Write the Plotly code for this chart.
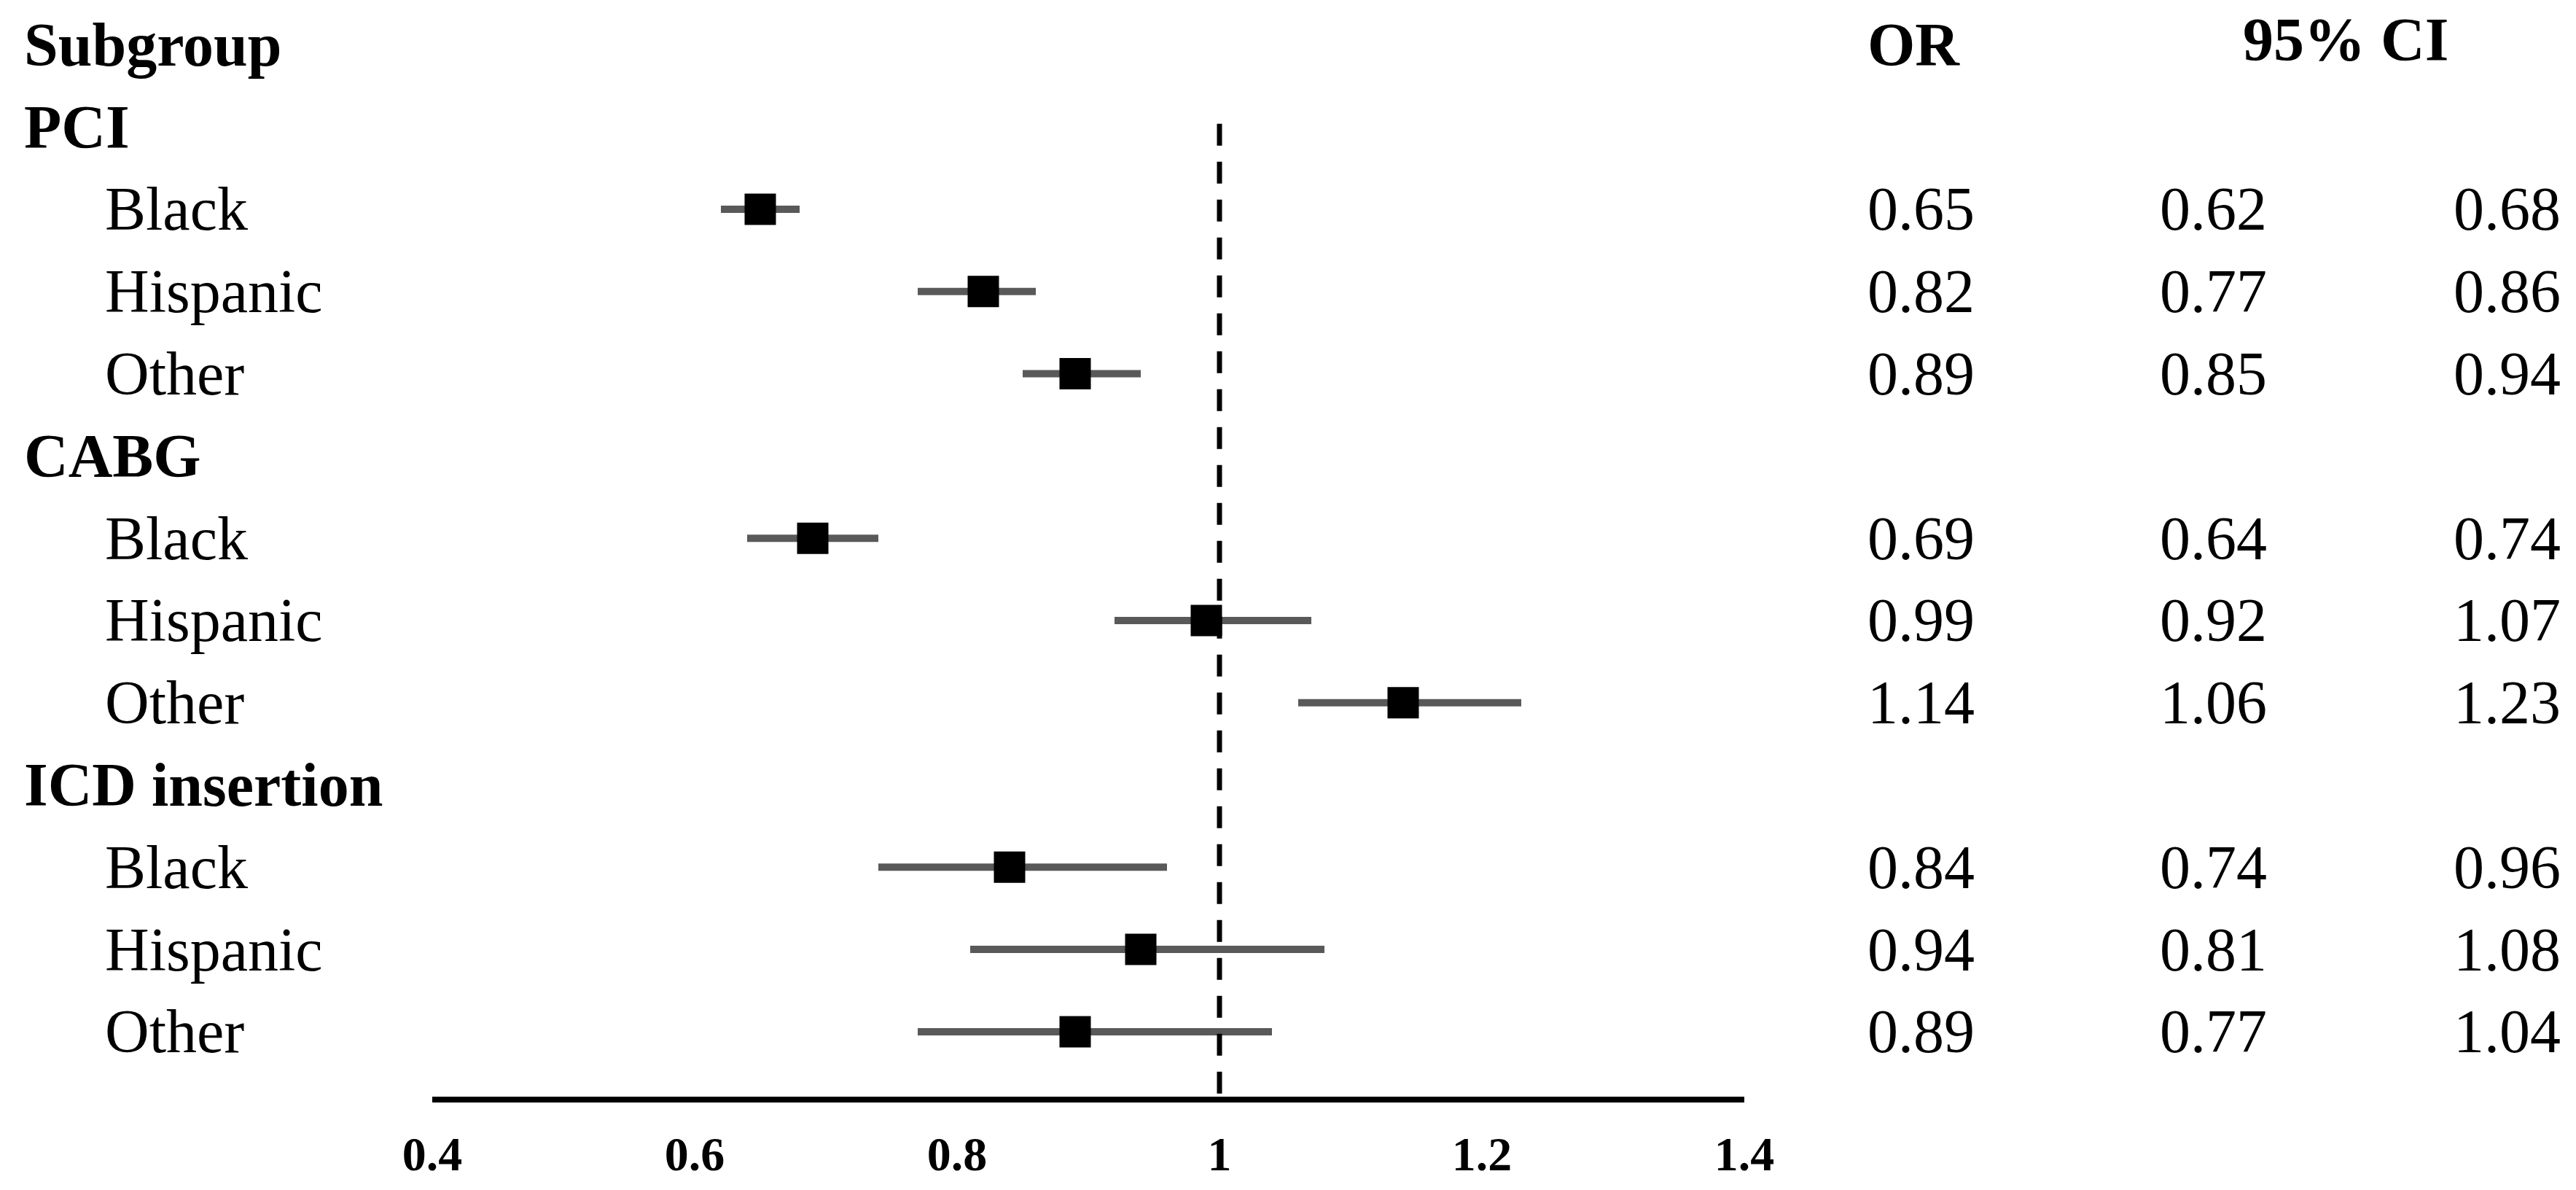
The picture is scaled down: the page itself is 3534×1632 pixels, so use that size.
import plotly.graph_objects as go

# forest plot data
groups = ['PCI', 'CABG', 'ICD insertion']
races = ['Black', 'Hispanic', 'Other']
odds_ratio = [0.65, 0.82, 0.89, 0.69, 0.99, 1.14, 0.84, 0.94, 0.89]
ci_low = [0.62, 0.77, 0.85, 0.64, 0.92, 1.06, 0.74, 0.81, 0.77]
ci_high = [0.68, 0.86, 0.94, 0.74, 1.07, 1.23, 0.96, 1.08, 1.04]
x_ticks = [0.4, 0.6, 0.8, 1, 1.2, 1.4]

W, H = 3534, 1632
FONT = 'Liberation Serif, Times New Roman, serif'

#building the rows: header row 0, then group row followed by race rows
rows_y = []
labels = []
row = 1
for g in groups:
    labels.append((row, g, True))
    row += 1
    for r in races:
        labels.append((row, r, False))
        rows_y.append(row)
        row += 1

fig = go.Figure()

fig.add_trace(go.Scatter(
    x=odds_ratio, y=rows_y, mode='markers',
    marker=dict(symbol='square', size=43, color='black'),
    error_x=dict(type='data', symmetric=False,
                 array=[h - o for h, o in zip(ci_high, odds_ratio)],
                 arrayminus=[o - l for o, l in zip(odds_ratio, ci_low)],
                 color='#595959', thickness=10, width=0),
    showlegend=False, cliponaxis=False))

# reference line at OR = 1
fig.add_shape(type='line', xref='x', yref='y', x0=1, x1=1, y0=0.96, y1=12.79,
              line=dict(color='black', width=7, dash='30px,22px'), layer='above')

def px(x):
    return x / W

annotations = []
# header row
annotations.append(dict(x=px(31), y=0, text='<b>Subgroup</b>', xanchor='left'))
annotations.append(dict(x=px(2560), y=0, text='<b>OR</b>', xanchor='left'))
annotations.append(dict(x=px(3218), y=-0.06, text='<b>95% CI</b>', xanchor='center'))

for r, text, bold in labels:
    if bold:
        annotations.append(dict(x=px(31), y=r, text='<b>' + text + '</b>', xanchor='left'))
    else:
        annotations.append(dict(x=px(142), y=r, text=text, xanchor='left'))

for yy, o, l, h in zip(rows_y, odds_ratio, ci_low, ci_high):
    annotations.append(dict(x=px(2560), y=yy, text=f'{o:.2f}', xanchor='left'))
    annotations.append(dict(x=px(2961), y=yy, text=f'{l:.2f}', xanchor='left'))
    annotations.append(dict(x=px(3364), y=yy, text=f'{h:.2f}', xanchor='left'))

for a in annotations:
    a.update(xref='paper', yref='y', yanchor='middle', showarrow=False,
             font=dict(family=FONT, size=84, color='black'))

fig.update_layout(
    width=W, height=H,
    margin=dict(l=0, r=0, t=0, b=0, autoexpand=False),
    paper_bgcolor='white', plot_bgcolor='white',
    annotations=annotations,
    xaxis=dict(domain=[px(593), px(2393)], range=[0.4, 1.4],
               tickvals=x_ticks, ticktext=['<b>%g</b>' % t for t in x_ticks],
               tickfont=dict(family=FONT, size=66, color='black'),
               showline=True, linecolor='black', linewidth=8, automargin=False,
               showgrid=False, zeroline=False, ticks='', ticklabelstandoff=14),
    yaxis=dict(domain=[(H - 1504) / H, 1],
               range=[12.79, -61.4 / 112.8], automargin=False,
               visible=False, showgrid=False, zeroline=False),
)

# page fills the window exactly: no body margin, no scroll area
page_css = ("document.documentElement.style.overflow='hidden';"
            "document.body.style.margin='0';"
            "document.body.style.overflow='hidden';"
            "document.body.style.height='1632px';")
fig.write_html('out.html', post_script=page_css, config={'displayModeBar': False})
